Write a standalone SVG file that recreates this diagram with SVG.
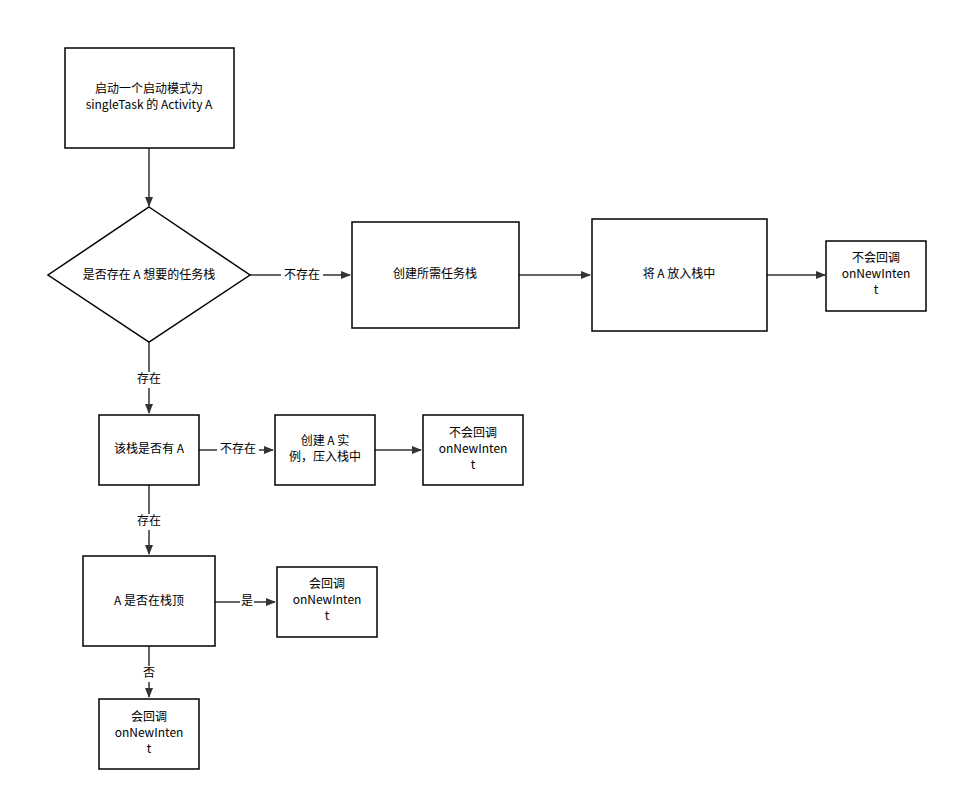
<svg xmlns="http://www.w3.org/2000/svg" width="958" height="801" viewBox="0 0 958 801">
<style>
.n{fill:#fff;stroke:#000;stroke-width:1.5}
.e{fill:none;stroke:#333;stroke-width:1.5;marker-end:url(#a)}
text{font-family:"Noto Sans CJK SC","Noto Sans",sans-serif;font-size:12px;fill:#000;text-anchor:middle;dominant-baseline:middle}
.l{fill:#fff}
</style>
<defs><marker id="a" viewBox="0 0 10 10" refX="9" refY="5" markerWidth="10" markerHeight="10" markerUnits="userSpaceOnUse" orient="auto"><path d="M0,1 L10,5 L0,9 z" fill="#333"/></marker></defs>
<rect width="958" height="801" fill="#fff"/>
<g id="edges">
<path class="e" d="M149,148 V206"/>
<path class="e" d="M250,275 H350"/>
<rect class="l" x="281" y="268" width="42" height="16"/><text x="302" y="276">不存在</text>
<path class="e" d="M519,275 H590"/>
<path class="e" d="M767,275 H825"/>
<path class="e" d="M149,342 V413"/>
<rect class="l" x="135" y="372" width="28" height="16"/><text x="149" y="380">存在</text>
<path class="e" d="M199,450 H273"/>
<rect class="l" x="217" y="442" width="42" height="16"/><text x="238" y="450">不存在</text>
<path class="e" d="M375,450 H421"/>
<path class="e" d="M149,485 V554"/>
<rect class="l" x="135" y="514" width="28" height="16"/><text x="149" y="522">存在</text>
<path class="e" d="M215,602 H275"/>
<rect class="l" x="240" y="594" width="14" height="16"/><text x="247" y="602">是</text>
<path class="e" d="M149,646 V697"/>
<rect class="l" x="142" y="666" width="14" height="16"/><text x="149" y="674">否</text>
</g>
<g id="n1"><rect class="n" x="65" y="48" width="169" height="100"/><text x="149" y="90">启动一个启动模式为</text><text x="149" y="106">singleTask 的 Activity A</text></g>
<g id="n2"><path class="n" d="M149,207 L250,275 L149,342 L48,275 Z"/><text x="149" y="276">是否存在 A 想要的任务栈</text></g>
<g id="n3"><rect class="n" x="352" y="222" width="167" height="106"/><text x="435" y="275">创建所需任务栈</text></g>
<g id="n4"><rect class="n" x="592" y="219" width="175" height="112"/><text x="679" y="275">将 A 放入栈中</text></g>
<g id="n5"><rect class="n" x="826" y="241" width="100" height="70"/><text x="876" y="259">不会回调</text><text x="876" y="275">onNewInten</text><text x="876" y="291">t</text></g>
<g id="n6"><rect class="n" x="99" y="415" width="100" height="70"/><text x="149" y="450">该栈是否有 A</text></g>
<g id="n7"><rect class="n" x="275" y="415" width="100" height="70"/><text x="325" y="442">创建 A 实</text><text x="325" y="458">例，压入栈中</text></g>
<g id="n8"><rect class="n" x="423" y="415" width="100" height="70"/><text x="473" y="434">不会回调</text><text x="473" y="450">onNewInten</text><text x="473" y="466">t</text></g>
<g id="n9"><rect class="n" x="83" y="556" width="132" height="90"/><text x="149" y="602">A 是否在栈顶</text></g>
<g id="n10"><rect class="n" x="277" y="567" width="100" height="70"/><text x="327" y="585">会回调</text><text x="327" y="601">onNewInten</text><text x="327" y="617">t</text></g>
<g id="n11"><rect class="n" x="99" y="699" width="100" height="70"/><text x="149" y="718">会回调</text><text x="149" y="734">onNewInten</text><text x="149" y="750">t</text></g>
</svg>
